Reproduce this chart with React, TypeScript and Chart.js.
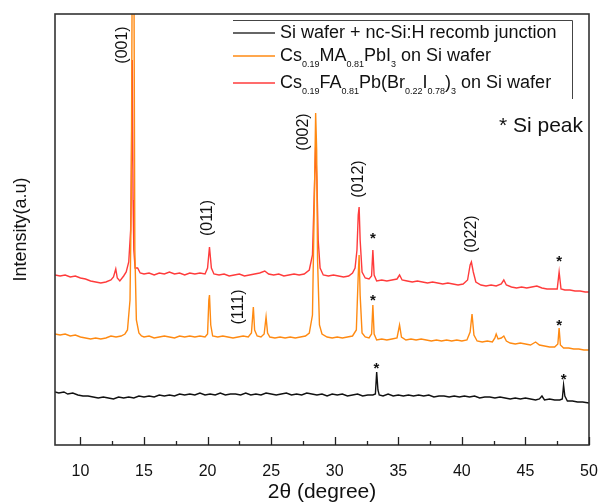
import React, { useEffect, useRef } from 'react';
import { Chart, registerables } from 'chart.js';

Chart.register(...registerables);

// ---------- data (2θ in degree, intensity in arbitrary units, offset per trace) ----------
const blackTheta = [8.0, 8.3, 8.7, 9.0, 9.4, 9.8, 10.2, 10.6, 11.0, 11.4, 11.8, 12.2, 12.6, 13.0, 13.4, 13.8, 14.2, 14.6, 15.0, 15.4, 15.8, 16.2, 16.6, 17.0, 17.4, 17.8, 18.2, 18.6, 19.0, 19.4, 19.8, 20.2, 20.6, 21.0, 21.4, 21.8, 22.2, 22.6, 23.0, 23.4, 23.8, 24.2, 24.6, 25.0, 25.4, 25.8, 26.2, 26.6, 27.0, 27.4, 27.8, 28.2, 28.6, 29.0, 29.4, 29.8, 30.2, 30.6, 31.0, 31.4, 31.8, 32.2, 32.6, 33.0, 33.2, 33.3, 33.4, 33.5, 33.8, 34.2, 34.6, 35.0, 35.4, 35.8, 36.2, 36.6, 37.0, 37.4, 37.8, 38.2, 38.6, 39.0, 39.4, 39.8, 40.2, 40.6, 41.0, 41.4, 41.8, 42.2, 42.6, 43.0, 43.4, 43.8, 44.2, 44.6, 45.0, 45.4, 45.8, 46.1, 46.3, 46.5, 46.9, 47.3, 47.7, 47.9, 48.0, 48.1, 48.3, 48.7, 49.1, 49.5, 50.0];
const blackInt = [53, 52, 53, 51, 52, 50, 49, 49, 48, 47, 48, 47, 46, 48, 47, 48, 47, 49, 48, 49, 48, 50, 49, 50, 49, 51, 50, 51, 50, 52, 50, 51, 50, 52, 50, 51, 51, 50, 52, 50, 51, 50, 52, 51, 50, 51, 52, 50, 51, 50, 52, 51, 50, 51, 49, 51, 50, 51, 49, 50, 51, 49, 50, 50, 51, 73, 55, 50, 49, 51, 49, 50, 49, 50, 49, 50, 49, 50, 48, 49, 49, 48, 49, 48, 49, 48, 49, 47, 48, 48, 47, 48, 47, 46, 47, 46, 47, 46, 45, 46, 49, 45, 46, 45, 45, 46, 60, 49, 44, 44, 43, 43, 42];

const orangeTheta = [8.0, 8.4, 8.8, 9.2, 9.6, 10.0, 10.4, 10.8, 11.2, 11.6, 12.0, 12.4, 12.8, 13.2, 13.5, 13.7, 13.9, 14.0, 14.08, 14.2, 14.28, 14.4, 14.6, 14.8, 15.0, 15.4, 15.8, 16.2, 16.6, 17.0, 17.4, 17.8, 18.2, 18.6, 19.0, 19.4, 19.8, 20.0, 20.1, 20.15, 20.25, 20.4, 20.8, 21.2, 21.6, 22.0, 22.4, 22.8, 23.2, 23.45, 23.6, 23.7, 23.9, 24.2, 24.45, 24.6, 24.72, 24.9, 25.3, 25.7, 26.1, 26.5, 26.9, 27.3, 27.7, 28.0, 28.25, 28.4, 28.5, 28.58, 28.65, 28.8, 29.0, 29.4, 29.8, 30.2, 30.6, 31.0, 31.4, 31.7, 31.85, 31.92, 32.0, 32.15, 32.4, 32.7, 32.9, 33.0, 33.1, 33.3, 33.7, 34.1, 34.5, 34.9, 35.1, 35.25, 35.6, 36.0, 36.4, 36.8, 37.2, 37.6, 38.0, 38.4, 38.8, 39.2, 39.6, 40.0, 40.4, 40.65, 40.8, 40.95, 41.2, 41.6, 42.0, 42.4, 42.6, 42.7, 42.85, 43.1, 43.3, 43.5, 43.8, 44.2, 44.6, 45.0, 45.4, 45.8, 46.1, 46.5, 46.9, 47.3, 47.55, 47.65, 47.75, 48.0, 48.4, 48.8, 49.2, 49.6, 50.0];
const orangeInt = [111, 110, 111, 109, 110, 108, 107, 106, 107, 106, 107, 109, 108, 109, 111, 115, 145, 245, 505, 505, 195, 125, 112, 109, 108, 109, 107, 108, 109, 108, 107, 109, 108, 109, 108, 109, 108, 111, 145, 150, 120, 109, 108, 109, 108, 107, 108, 109, 108, 112, 138, 115, 109, 108, 111, 128, 112, 108, 107, 108, 107, 108, 107, 108, 109, 112, 130, 245, 332, 295, 185, 120, 111, 108, 107, 108, 107, 108, 109, 115, 170, 190, 150, 112, 108, 107, 111, 140, 111, 105, 106, 105, 106, 107, 120, 108, 105, 106, 105, 106, 105, 104, 105, 104, 105, 104, 105, 104, 105, 113, 131, 110, 104, 103, 104, 103, 107, 111, 106, 107, 109, 104, 102, 101, 102, 101, 100, 103, 100, 99, 98, 98, 101, 117, 100, 97, 97, 96, 96, 95, 95];

const redTheta = [8.0, 8.4, 8.8, 9.2, 9.6, 10.0, 10.4, 10.8, 11.2, 11.6, 12.0, 12.4, 12.6, 12.78, 12.9, 13.1, 13.4, 13.6, 13.8, 13.95, 14.02, 14.08, 14.14, 14.2, 14.3, 14.5, 14.7, 15.0, 15.4, 15.8, 16.2, 16.6, 17.0, 17.4, 17.8, 18.2, 18.6, 19.0, 19.4, 19.8, 20.0, 20.15, 20.3, 20.5, 20.9, 21.3, 21.7, 22.1, 22.5, 22.9, 23.3, 23.7, 24.1, 24.5, 24.8, 25.2, 25.6, 26.0, 26.4, 26.8, 27.2, 27.6, 28.0, 28.25, 28.4, 28.5, 28.6, 28.7, 28.85, 29.1, 29.5, 29.9, 30.3, 30.7, 31.1, 31.4, 31.6, 31.75, 31.85, 31.92, 32.0, 32.15, 32.4, 32.7, 32.9, 33.0, 33.1, 33.3, 33.7, 34.1, 34.5, 34.9, 35.1, 35.3, 35.7, 36.1, 36.5, 36.9, 37.3, 37.7, 38.1, 38.5, 38.9, 39.3, 39.7, 40.1, 40.45, 40.65, 40.75, 40.9, 41.1, 41.5, 41.9, 42.3, 42.7, 43.1, 43.3, 43.5, 43.9, 44.3, 44.7, 45.1, 45.5, 45.9, 46.3, 46.7, 47.1, 47.5, 47.65, 47.8, 48.1, 48.5, 48.9, 49.3, 49.7, 50.0];
const redInt = [170, 169, 170, 168, 169, 167, 166, 164, 163, 162, 163, 165, 168, 176, 167, 164, 169, 173, 183, 215, 295, 385, 245, 195, 177, 177, 172, 171, 172, 170, 172, 171, 173, 171, 172, 170, 172, 171, 172, 171, 177, 198, 177, 171, 170, 171, 169, 170, 171, 169, 170, 171, 172, 174, 171, 170, 171, 169, 170, 171, 170, 171, 175, 190, 255, 298, 265, 205, 177, 170, 169, 170, 169, 168, 169, 172, 177, 195, 230, 238, 205, 173, 167, 166, 169, 195, 170, 164, 165, 164, 165, 166, 170, 165, 164, 163, 164, 163, 162, 163, 162, 161, 162, 161, 160, 161, 165, 180, 183, 173, 163, 160, 159, 160, 159, 161, 165, 160, 158, 157, 158, 157, 158, 159, 157, 156, 156, 156, 173, 156, 155, 155, 154, 154, 153, 153];

// axis
const xMin = 8;
const xMax = 50;
const yMin = 0;
const yMax = 431;
const xMajorTicks = [10, 15, 20, 25, 30, 35, 40, 45, 50];
const xMinorTicks = [12.5, 17.5, 22.5, 27.5, 32.5, 37.5, 42.5, 47.5];

// peak annotations (Miller indices)
const peakLabels = ['(001)', '(011)', '(002)', '(012)', '(022)', '(111)'];
const peakLabelTheta = [13.29, 19.97, 27.52, 31.85, 40.8, 22.43];
const peakLabelInt = [400, 227, 313, 266, 211, 138];

// Si peak markers
const starTheta = [33.0, 33.0, 33.28, 47.65, 47.65, 48.0];
const starInt = [210, 148, 80, 187, 123, 69];

const FONT = '"Liberation Sans", Arial, Helvetica, sans-serif';
const BLACK = '#111111';
const ORANGE = '#ff8a12';
const RED = '#ff3b3b';
const W = 599;
const H = 503;

type Seg = { t: string; sub?: boolean };
const legendItems: { color: string; parts: Seg[] }[] = [
  { color: '#333333', parts: [{ t: 'Si wafer + nc-Si:H recomb junction' }] },
  {
    color: ORANGE,
    parts: [
      { t: 'Cs' }, { t: '0.19', sub: true }, { t: 'MA' }, { t: '0.81', sub: true },
      { t: 'PbI' }, { t: '3', sub: true }, { t: ' on Si wafer' },
    ],
  },
  {
    color: RED,
    parts: [
      { t: 'Cs' }, { t: '0.19', sub: true }, { t: 'FA' }, { t: '0.81', sub: true },
      { t: 'Pb(Br' }, { t: '0.22', sub: true }, { t: 'I' }, { t: '0.78', sub: true },
      { t: ')' }, { t: '3', sub: true }, { t: ' on Si wafer' },
    ],
  },
];

const decorPlugin = {
  id: 'decor',
  afterDatasetsDraw(chart: any) {
    const ctx: CanvasRenderingContext2D = chart.ctx;
    const { left, right, top, bottom } = chart.chartArea;
    const xs = chart.scales.x;
    const ys = chart.scales.y;
    ctx.save();

    // frame
    ctx.strokeStyle = '#333';
    ctx.lineWidth = 1.6;
    ctx.strokeRect(left, top, right - left, bottom - top);

    // inward ticks
    ctx.lineWidth = 1.3;
    ctx.strokeStyle = '#222';
    xMajorTicks.forEach((v) => {
      const x = Math.round(xs.getPixelForValue(v)) + 0.5;
      ctx.beginPath();
      ctx.moveTo(x, bottom);
      ctx.lineTo(x, bottom - 8);
      ctx.stroke();
    });
    xMinorTicks.forEach((v) => {
      const x = Math.round(xs.getPixelForValue(v)) + 0.5;
      ctx.beginPath();
      ctx.moveTo(x, bottom);
      ctx.lineTo(x, bottom - 4);
      ctx.stroke();
    });

    // peak labels (rotated)
    ctx.fillStyle = '#111';
    ctx.font = `16px ${FONT}`;
    ctx.textAlign = 'center';
    ctx.textBaseline = 'middle';
    peakLabels.forEach((lab, i) => {
      const x = xs.getPixelForValue(peakLabelTheta[i]);
      const y = ys.getPixelForValue(peakLabelInt[i]);
      ctx.save();
      ctx.translate(x, y);
      ctx.rotate(-Math.PI / 2);
      ctx.fillText(lab, 0, 0);
      ctx.restore();
    });

    // stars
    ctx.font = `bold 15px ${FONT}`;
    starTheta.forEach((t, i) => {
      const x = xs.getPixelForValue(t);
      const y = ys.getPixelForValue(starInt[i]);
      ctx.fillText('*', x, y + 4);
    });

    // "* Si peak" note
    ctx.font = `21px ${FONT}`;
    ctx.textAlign = 'right';
    ctx.fillText('* Si peak', right - 6, top + 112);

    // legend box (top and right edges)
    const lx0 = 233;
    const lx1 = 572;
    const ly0 = 20;
    const ly1 = 99;
    ctx.strokeStyle = '#444';
    ctx.lineWidth = 1;
    ctx.beginPath();
    ctx.moveTo(lx0, ly0 + 0.5);
    ctx.lineTo(lx1 + 0.5, ly0 + 0.5);
    ctx.lineTo(lx1 + 0.5, ly1);
    ctx.stroke();

    const rowsY = [33, 56, 83];
    legendItems.forEach((item, i) => {
      const y = rowsY[i];
      ctx.strokeStyle = item.color;
      ctx.lineWidth = 1.3;
      ctx.beginPath();
      ctx.moveTo(lx0, y);
      ctx.lineTo(275, y);
      ctx.stroke();
      let x = 280;
      ctx.textAlign = 'left';
      ctx.textBaseline = 'middle';
      ctx.fillStyle = '#111';
      item.parts.forEach((p) => {
        if (p.sub) {
          ctx.font = `9px ${FONT}`;
          ctx.fillText(p.t, x, y + 9);
        } else {
          ctx.font = `18px ${FONT}`;
          ctx.fillText(p.t, x, y);
        }
        x += ctx.measureText(p.t).width;
      });
    });

    // axis titles
    ctx.fillStyle = '#111';
    ctx.textAlign = 'center';
    ctx.textBaseline = 'middle';
    ctx.font = `21px ${FONT}`;
    ctx.fillText('2θ (degree)', (left + right) / 2, 492);
    ctx.save();
    ctx.translate(21, (top + bottom) / 2);
    ctx.rotate(-Math.PI / 2);
    ctx.font = `18px ${FONT}`;
    ctx.fillText('Intensity(a.u)', 0, 0);
    ctx.restore();

    ctx.restore();
  },
};

function toPoints(xs: number[], ys: number[]) {
  return xs.map((x, i) => ({ x, y: ys[i] }));
}

export default function App() {
  const canvasRef = useRef<HTMLCanvasElement | null>(null);

  useEffect(() => {
    document.body.style.margin = '0';
    document.body.style.overflow = 'hidden';
    const canvas = canvasRef.current;
    if (!canvas) return;
    const chart = new Chart(canvas, {
      type: 'line',
      data: {
        datasets: [
          {
            label: 'Si wafer + nc-Si:H recomb junction',
            data: toPoints(blackTheta, blackInt),
            borderColor: BLACK,
            borderWidth: 1.4,
            pointRadius: 0,
            tension: 0,
            order: 3,
          },
          {
            label: 'Cs0.19MA0.81PbI3 on Si wafer',
            data: toPoints(orangeTheta, orangeInt),
            borderColor: ORANGE,
            borderWidth: 1.4,
            pointRadius: 0,
            tension: 0,
            order: 1,
          },
          {
            label: 'Cs0.19FA0.81Pb(Br0.22I0.78)3 on Si wafer',
            data: toPoints(redTheta, redInt),
            borderColor: RED,
            borderWidth: 1.4,
            pointRadius: 0,
            tension: 0,
            order: 2,
          },
        ],
      },
      options: {
        animation: false,
        responsive: false,
        devicePixelRatio: 1,
        layout: { padding: { left: 55, right: 10, top: 14, bottom: 0 } },
        plugins: {
          legend: { display: false },
          tooltip: { enabled: false },
        },
        scales: {
          x: {
            type: 'linear',
            min: xMin,
            max: xMax,
            grid: { display: false },
            border: { display: false },
            afterBuildTicks: (scale: any) => {
              scale.ticks = xMajorTicks.map((v) => ({ value: v }));
            },
            afterFit: (scale: any) => {
              scale.height = 58;
              scale.paddingLeft = 0;
              scale.paddingRight = 0;
            },
            ticks: {
              color: '#111',
              font: { family: FONT, size: 16 },
              padding: 9,
              maxRotation: 0,
              autoSkip: false,
            },
          },
          y: {
            type: 'linear',
            display: false,
            min: yMin,
            max: yMax,
          },
        },
      },
      plugins: [decorPlugin],
    });
    return () => chart.destroy();
  }, []);

  return (
    <div style={{ position: 'relative', width: W, height: H, background: '#fff', overflow: 'hidden' }}>
      <canvas ref={canvasRef} width={W} height={H} style={{ display: 'block', width: W, height: H }} />
    </div>
  );
}
